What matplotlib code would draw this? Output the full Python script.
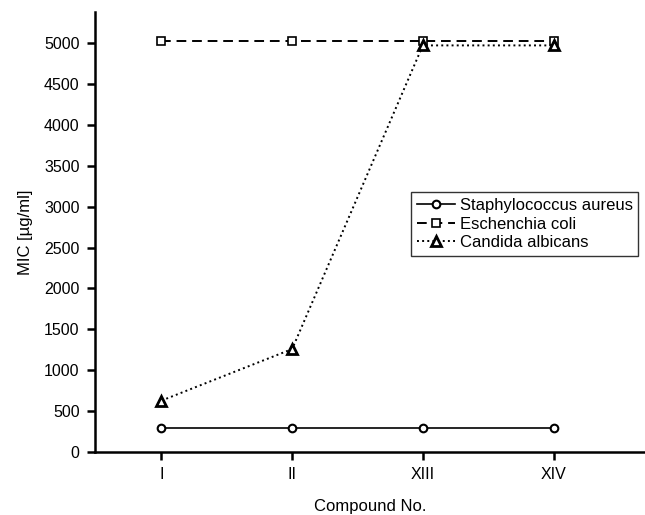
import numpy as np
import matplotlib
matplotlib.use('Agg')
from matplotlib import pyplot as plt

plt.rcParams['font.family'] = ['Liberation Sans', 'DejaVu Sans']

compounds = ['I', 'II', 'XIII', 'XIV']
staph = [300, 300, 300, 300]
ecoli = [5020, 5020, 5020, 5020]
candida = [630, 1260, 4970, 4970]

fig = plt.figure(figsize=(6.45, 5.15), dpi=100)
ax = fig.add_axes([0.147, 0.122, 0.853, 0.855])
x = np.arange(len(compounds))

ax.plot(x, staph, '-', color='black', lw=1.2, marker='o', ms=5.5, mfc='white', mec='black', mew=1.5, label='Staphylococcus aureus')
ax.plot(x, ecoli, '--', color='black', lw=1.4, dashes=(5, 3), marker='s', ms=5.5, mfc='white', mec='black', mew=1.2, label='Eschenchia coli')
ax.plot(x, candida, ':', color='black', lw=1.4, marker='^', ms=6.5, mfc='white', mec='black', mew=2, label='Candida albicans')

ax.set_xlim(-0.51, 3.7)
ax.set_ylim(0, 5380)
ax.set_xticks(x)
ax.set_xticklabels(compounds)
ax.set_yticks(np.arange(0, 5001, 500))
for s in ['top', 'right']:
    ax.spines[s].set_visible(False)
for s in ['left', 'bottom']:
    ax.spines[s].set_linewidth(1.8)
ax.tick_params(direction='out', length=6, width=1.8, labelsize=11.5, pad=5)
ax.set_ylabel('MIC [µg/ml]', fontsize=12, labelpad=8)
ax.set_xlabel('Compound No.', fontsize=12, labelpad=12)

leg = ax.legend(loc='upper left', bbox_to_anchor=(0.575, 0.59), fontsize=12, frameon=True, fancybox=False,
                edgecolor='black', handlelength=2.3, handletextpad=0.25, borderpad=0.35, labelspacing=0.2, borderaxespad=0)
leg.get_frame().set_linewidth(1.0)

fig.savefig('out.png', dpi=100)
